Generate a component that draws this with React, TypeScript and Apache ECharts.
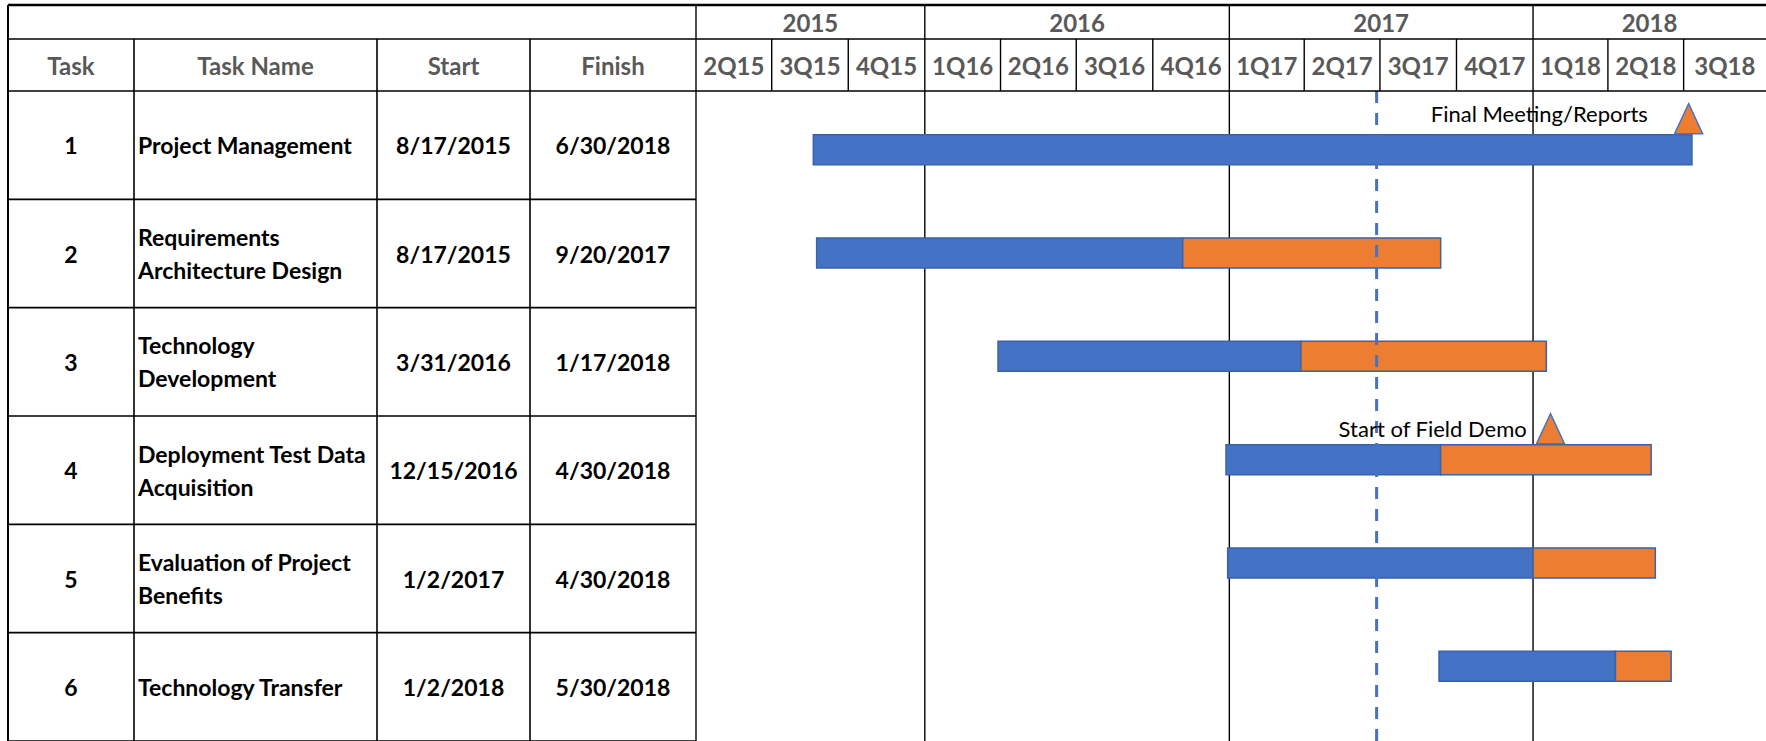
import React, { useEffect, useRef } from 'react';
import * as echarts from 'echarts';

// ---------- data ----------
const taskIds = ['1', '2', '3', '4', '5', '6'];
const taskNames = [
  'Project Management',
  'Requirements\nArchitecture Design',
  'Technology\nDevelopment',
  'Deployment Test Data\nAcquisition',
  'Evaluation of Project\nBenefits',
  'Technology Transfer',
];
const startDates = ['8/17/2015', '8/17/2015', '3/31/2016', '12/15/2016', '1/2/2017', '1/2/2018'];
const finishDates = ['6/30/2018', '9/20/2017', '1/17/2018', '4/30/2018', '4/30/2018', '5/30/2018'];
const tableHeaders = ['Task', 'Task Name', 'Start', 'Finish'];

// bar extents (blue = start..split, orange = split..end)
const barStart = ['2015-08-20', '2015-08-24', '2016-03-29', '2016-12-28', '2016-12-30', '2017-09-10'];
const barSplit = ['2018-07-11', '2016-11-06', '2017-03-28', '2017-09-12', '2018-01-01', '2018-04-10'];
const barEnd = ['2018-07-11', '2017-09-12', '2018-01-17', '2018-05-23', '2018-05-28', '2018-06-16'];

const milestoneNames = ['Final Meeting/Reports', 'Start of Field Demo'];
const milestoneDates = ['2018-07-07', '2018-01-22'];
const milestoneRows = [0, 3];

const statusDate = '2017-06-27';
const yearLabels = ['2015', '2016', '2017', '2018'];
const yearBoundaries = ['2016-01-01', '2017-01-01', '2018-01-01'];
const quarterLabels = ['2Q15', '3Q15', '4Q15', '1Q16', '2Q16', '3Q16', '4Q16', '1Q17', '2Q17', '3Q17', '4Q17', '1Q18', '2Q18', '3Q18'];
const quarterStarts = ['2015-04-01', '2015-07-01', '2015-10-01', '2016-01-01', '2016-04-01', '2016-07-01', '2016-10-01', '2017-01-01', '2017-04-01', '2017-07-01', '2017-10-01', '2018-01-01', '2018-04-01', '2018-07-01'];
const axisMin = '2015-04-01';
const axisMax = '2018-10-08';

// ---------- style / layout ----------
const W = 1766;
const H = 741;
const FONT = 'Lato';
const BLUE = '#4472C4';
const ORANGE = '#ED7D31';
const EDGE = '#3A62A8';
const GRAY = '#595959';
const COL_X = [8, 134, 377, 530, 696];
const TL = 696;
const ROW_TOP = 91;

const t = (s: string) => Date.parse(s);

function txt(text: string, x: number, y: number, align: string, font: string, fill: string, lineHeight?: number) {
  const style: any = {
    text, x, y,
    align, textAlign: align,
    verticalAlign: 'middle', textVerticalAlign: 'middle',
    font, fill,
  };
  if (lineHeight) style.lineHeight = lineHeight;
  return { type: 'text', style };
}

export default function App() {
  const ref = useRef<HTMLDivElement>(null);
  useEffect(() => {
    const chart = echarts.init(ref.current!, null, { renderer: 'svg' });
    const tMin = t(axisMin);
    const tMax = t(axisMax);
    const bodyFont = `bold 23px ${FONT}`;
    const headFont = `bold 24px ${FONT}`;

    const timeAxis = (gridIndex: number) => ({ type: 'time', gridIndex, min: tMin, max: tMax, show: false });
    const unitAxis = (gridIndex: number) => ({ type: 'value', gridIndex, min: 0, max: 1, show: false });

    const option: any = {
      animation: false,
      backgroundColor: '#fff',
      grid: [
        { left: TL, right: 0, top: 98, height: 620 },            // 0 bars
        { left: TL, right: 0, top: ROW_TOP, height: H - ROW_TOP + 4 }, // 1 timeline body frame
        { left: COL_X[0], width: TL - COL_X[0], top: ROW_TOP, height: 653 }, // 2 table body
        { left: TL, right: 0, top: 5, height: 34 },              // 3 year header
        { left: TL, right: 0, top: 39, height: 52 },             // 4 quarter header
      ],
      xAxis: [timeAxis(0), timeAxis(1), unitAxis(2), timeAxis(3), timeAxis(4)],
      yAxis: [
        { type: 'category', gridIndex: 0, data: taskIds, inverse: true, show: false },
        unitAxis(1),
        { type: 'category', gridIndex: 2, data: taskIds, inverse: true, show: false },
        unitAxis(3),
        unitAxis(4),
      ],
      series: [
        // year lines in timeline body (behind bars)
        {
          type: 'custom', xAxisIndex: 1, yAxisIndex: 1, z: 1,
          data: yearBoundaries.map((d) => [t(d), 0]),
          encode: { x: 0, y: 1 },
          renderItem: (params: any, api: any) => {
            const x = api.coord([api.value(0), 0])[0];
            const cs = params.coordSys;
            return { type: 'line', shape: { x1: x, y1: cs.y, x2: x, y2: cs.y + cs.height }, style: { stroke: '#000', lineWidth: 1.4 } };
          },
        },
        // gantt bars
        {
          type: 'custom', xAxisIndex: 0, yAxisIndex: 0, z: 2,
          dimensions: ['row', 'start', 'split', 'end'],
          data: barStart.map((s, i) => [i, t(s), t(barSplit[i]), t(barEnd[i])]),
          encode: { y: 0, x: [1, 2, 3] },
          renderItem: (params: any, api: any) => {
            const row = api.value(0);
            const a = api.coord([api.value(1), row]);
            const b = api.coord([api.value(2), row]);
            const c = api.coord([api.value(3), row]);
            const h = 30;
            const children: any[] = [
              { type: 'rect', shape: { x: a[0], y: a[1] - h / 2, width: b[0] - a[0], height: h }, style: { fill: BLUE, stroke: EDGE, lineWidth: 1.5 } },
            ];
            if (c[0] - b[0] > 0.5) {
              children.push({ type: 'rect', shape: { x: b[0], y: b[1] - h / 2, width: c[0] - b[0], height: h }, style: { fill: ORANGE, stroke: EDGE, lineWidth: 1.5 } });
            }
            return { type: 'group', children };
          },
        },
        // status (dashed) line
        {
          type: 'custom', xAxisIndex: 1, yAxisIndex: 1, z: 3,
          data: [[t(statusDate), 0]],
          encode: { x: 0, y: 1 },
          renderItem: (params: any, api: any) => {
            const x = api.coord([api.value(0), 0])[0];
            const cs = params.coordSys;
            return { type: 'line', shape: { x1: x, y1: cs.y, x2: x, y2: cs.y + cs.height }, style: { stroke: BLUE, lineWidth: 3, lineDash: [12, 10] } };
          },
        },
        // milestones
        {
          type: 'scatter', xAxisIndex: 0, yAxisIndex: 0, z: 4,
          symbol: 'triangle', symbolSize: [28, 30], symbolOffset: [0, -31],
          itemStyle: { color: ORANGE, borderColor: BLUE, borderWidth: 1.5, opacity: 1 },
          label: {
            show: true, position: 'left', fontFamily: FONT, fontSize: 22, color: '#000',
            formatter: (p: any) => milestoneNames[p.dataIndex],
          },
          data: milestoneDates.map((d, i) => ({
            value: [t(d), milestoneRows[i]],
            label: i === 0 ? { distance: 26, offset: [0, -5] } : { distance: 9, offset: [0, 0] },
          })),
        },
        // table body rows
        {
          type: 'custom', xAxisIndex: 2, yAxisIndex: 2, z: 2,
          data: taskIds.map((_, i) => [0, i]),
          encode: { x: 0, y: 1 },
          renderItem: (params: any, api: any) => {
            const i = params.dataIndex;
            const p = api.coord([0, i]);
            const h = api.size([0, 1])[1];
            const cs = params.coordSys;
            const bottom = p[1] + h / 2;
            const cy = p[1];
            return {
              type: 'group',
              children: [
                { type: 'line', shape: { x1: cs.x, y1: bottom, x2: cs.x + cs.width, y2: bottom }, style: { stroke: '#000', lineWidth: 1.6 } },
                txt(taskIds[i], (COL_X[0] + COL_X[1]) / 2, cy, 'center', bodyFont, '#000'),
                txt(taskNames[i], COL_X[1] + 4, cy, 'left', bodyFont, '#000', 33),
                txt(startDates[i], (COL_X[2] + COL_X[3]) / 2, cy, 'center', bodyFont, '#000'),
                txt(finishDates[i], (COL_X[3] + COL_X[4]) / 2, cy, 'center', bodyFont, '#000'),
              ],
            };
          },
        },
        // year header cells
        {
          type: 'custom', xAxisIndex: 3, yAxisIndex: 3, z: 2,
          data: yearLabels.map((_, i) => [i, 0]),
          encode: { x: 0, y: 1 },
          renderItem: (params: any, api: any) => {
            const i = params.dataIndex;
            const y = +yearLabels[i];
            const s = Math.max(t(`${y}-01-01`), tMin);
            const e = Math.min(t(`${y + 1}-01-01`), tMax);
            const x0 = api.coord([s, 0])[0];
            const x1 = api.coord([e, 0])[0];
            const cs = params.coordSys;
            const children: any[] = [txt(yearLabels[i], (x0 + x1) / 2, cs.y + cs.height / 2, 'center', headFont, GRAY)];
            if (s > tMin) children.push({ type: 'line', shape: { x1: x0, y1: cs.y, x2: x0, y2: cs.y + cs.height }, style: { stroke: '#000', lineWidth: 1.4 } });
            return { type: 'group', children };
          },
        },
        // quarter header cells
        {
          type: 'custom', xAxisIndex: 4, yAxisIndex: 4, z: 2,
          data: quarterLabels.map((_, i) => [i, 0]),
          encode: { x: 0, y: 1 },
          renderItem: (params: any, api: any) => {
            const i = params.dataIndex;
            const s = t(quarterStarts[i]);
            const e = i + 1 < quarterStarts.length ? t(quarterStarts[i + 1]) : tMax;
            const x0 = api.coord([s, 0])[0];
            const x1 = api.coord([e, 0])[0];
            const cs = params.coordSys;
            const children: any[] = [txt(quarterLabels[i], (x0 + x1) / 2, cs.y + cs.height / 2, 'center', headFont, GRAY)];
            if (s > tMin) children.push({ type: 'line', shape: { x1: x0, y1: cs.y, x2: x0, y2: cs.y + cs.height }, style: { stroke: '#000', lineWidth: 1.4 } });
            return { type: 'group', children };
          },
        },
      ],
      graphic: [
        { type: 'line', z: 10, shape: { x1: 8, y1: 5, x2: W, y2: 5 }, style: { stroke: '#000', lineWidth: 2.5 } },
        { type: 'line', z: 10, shape: { x1: 8, y1: 39, x2: W, y2: 39 }, style: { stroke: '#000', lineWidth: 1.4 } },
        { type: 'line', z: 10, shape: { x1: 8, y1: 91, x2: W, y2: 91 }, style: { stroke: '#000', lineWidth: 1.6 } },
        { type: 'line', z: 10, shape: { x1: 8, y1: 5, x2: 8, y2: H }, style: { stroke: '#000', lineWidth: 2 } },
        { type: 'line', z: 10, shape: { x1: TL, y1: 5, x2: TL, y2: H }, style: { stroke: '#000', lineWidth: 1.4 } },
        ...COL_X.slice(1, 4).map((x) => ({ type: 'line', z: 10, shape: { x1: x, y1: 39, x2: x, y2: H }, style: { stroke: '#000', lineWidth: 1.6 } })),
        ...tableHeaders.map((h, i) => ({
          type: 'text', z: 10, x: (COL_X[i] + COL_X[i + 1]) / 2, y: 65,
          style: { text: h, align: 'center', textAlign: 'center', verticalAlign: 'middle', textVerticalAlign: 'middle', font: headFont, fill: GRAY },
        })),
      ],
    };
    chart.setOption(option);
    return () => chart.dispose();
  }, []);
  return <div ref={ref} style={{ position: 'fixed', left: 0, top: 0, width: W, height: H, background: '#fff' }} />;
}
